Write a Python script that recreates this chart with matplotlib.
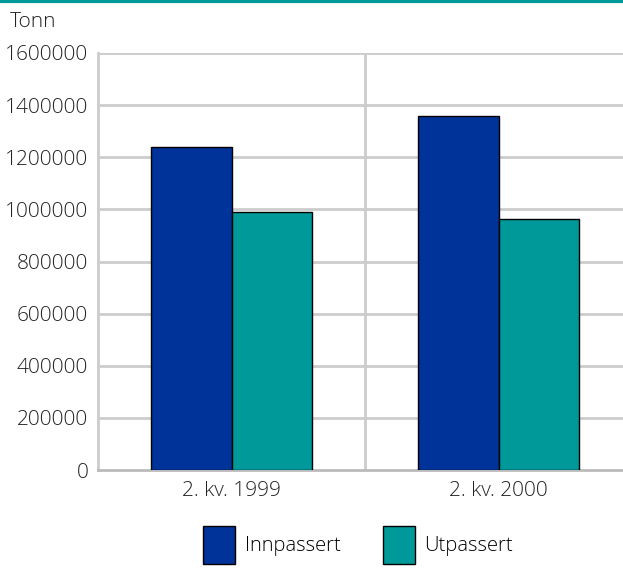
import numpy as np
import matplotlib.pyplot as plt
from matplotlib.lines import Line2D

plt.rcParams['font.family'] = ['Open Sans', 'DejaVu Sans']
plt.rcParams['font.weight'] = 'light'

categories = ['2. kv. 1999', '2. kv. 2000']
innpassert = [1240000, 1357000]
utpassert = [990000, 963000]
yticks = [0, 200000, 400000, 600000, 800000, 1000000, 1200000, 1400000, 1600000]

blue = '#003399'
teal = '#009999'
grid = '#cccccc'
txt = '#222222'

fig = plt.figure(figsize=(6.23, 5.77), dpi=100)
ax = fig.add_axes([98/623, 107/577, 534/623, 417/577])

x = np.arange(len(categories))
w = 0.3
ax.bar(x - w/2, innpassert, w, color=blue, edgecolor='black', linewidth=1, label='Innpassert', zorder=3)
ax.bar(x + w/2, utpassert, w, color=teal, edgecolor='black', linewidth=1, label='Utpassert', zorder=3)

ax.set_xlim(-0.5, 1.5)
ax.set_ylim(0, 1600000)
ax.set_yticks(yticks)
ax.set_yticklabels([str(v) for v in yticks], fontsize=15, color=txt)
ax.set_xticks(x)
ax.set_xticklabels(categories, fontsize=15, color=txt)
ax.tick_params(axis='x', length=0, pad=8)
ax.tick_params(axis='y', length=0, pad=7)

for v in yticks[1:]:
    ax.axhline(v, color=grid, linewidth=2, zorder=1)
ax.axvline(0.5, color=grid, linewidth=2, zorder=1)

for s in ['top', 'right']:
    ax.spines[s].set_visible(False)
ax.spines['left'].set_color(grid)
ax.spines['left'].set_linewidth(2)
ax.spines['bottom'].set_color('#bbbbbb')
ax.spines['bottom'].set_linewidth(2)

fig.text(10/623, 1 - 22/577, 'Tonn', fontsize=15, color=txt, va='center', ha='left')
fig.add_artist(Line2D([0, 1], [1 - 1/577, 1 - 1/577], color=teal, linewidth=3, transform=fig.transFigure))

fig.legend(loc='center', bbox_to_anchor=(358/623, 1 - 545/577), ncol=2, frameon=False,
           fontsize=14.5, handlelength=1.6, handleheight=2.6, columnspacing=2.1, handletextpad=0.45)

fig.savefig('out.png', dpi=100)
